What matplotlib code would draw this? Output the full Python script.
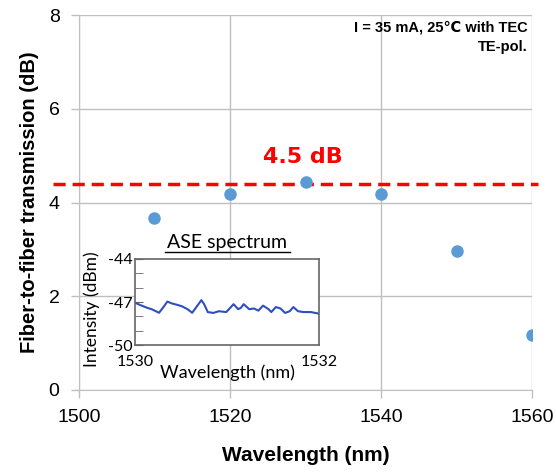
import matplotlib
matplotlib.use("Agg")
import matplotlib.pyplot as plt
from matplotlib.lines import Line2D

plt.rcParams["axes.unicode_minus"] = False

# main data: fiber-to-fiber transmission vs wavelength
wavelength = [1510, 1520, 1530, 1540, 1550, 1560]
transmission = [3.67, 4.18, 4.43, 4.18, 2.97, 1.17]
level_db = 4.4

# inset: ASE spectrum
ase_wl = [1530.00, 1530.07, 1530.13, 1530.18, 1530.26, 1530.32, 1530.35, 1530.40,
          1530.46, 1530.51, 1530.57, 1530.62, 1530.66, 1530.72, 1530.75, 1530.79,
          1530.85, 1530.91, 1530.99, 1531.02, 1531.07, 1531.12, 1531.15, 1531.18,
          1531.24, 1531.29, 1531.34, 1531.39, 1531.45, 1531.48, 1531.53, 1531.58,
          1531.63, 1531.68, 1531.72, 1531.77, 1531.83, 1531.91, 1531.99]
ase_dbm = [-47.05, -47.25, -47.4, -47.5, -47.75, -47.25, -46.97, -47.1,
           -47.2, -47.3, -47.5, -47.75, -47.4, -46.87, -47.15, -47.7,
           -47.76, -47.64, -47.7, -47.5, -47.15, -47.5, -47.4, -47.15,
           -47.5, -47.45, -47.6, -47.25, -47.5, -47.7, -47.35, -47.45,
           -47.76, -47.64, -47.35, -47.64, -47.7, -47.7, -47.8]

grid_c = "#bfbfbf"

fig = plt.figure(figsize=(5.56, 4.76), dpi=100)
ax = fig.add_axes([0.142, 0.181, 0.815, 0.787])

ax.plot(wavelength, transmission, "o", color="#5b9bd5", markersize=8, zorder=4)
ax.plot([1496.5, 1560.8], [level_db, level_db], "--", color="#ff0000", lw=2.5,
        dashes=(3.5, 2), clip_on=False, zorder=3)
ax.text(1529.7, 4.97, "4.5 dB", color="#ff0000", fontsize=16, fontweight="bold",
        ha="center", va="center", family="DejaVu Sans")
ax.text(0.99, 0.985, "I = 35 mA, 25\u2103 with TEC\nTE-pol.", transform=ax.transAxes,
        ha="right", va="top", fontsize=10.5, fontweight="bold", linespacing=1.5,
        family=["Liberation Sans", "DejaVu Sans"])

ax.set_xlim(1500, 1560)
ax.set_ylim(0, 8)
ax.set_xticks([1500, 1520, 1540, 1560])
ax.set_yticks([0, 2, 4, 6, 8])
ax.grid(True, color=grid_c, lw=1)
for s in ["top", "right"]:
    ax.spines[s].set_visible(False)
for s in ["left", "bottom"]:
    ax.spines[s].set_color(grid_c)
ax.tick_params(direction="out", color=grid_c, length=6, width=1,
               labelsize=14, pad=8)
for lab in ax.get_xticklabels() + ax.get_yticklabels():
    lab.set_family("Liberation Sans")
ax.set_xlabel("Wavelength (nm)", fontsize=15, fontweight="bold",
              family="Liberation Sans", labelpad=14)
ax.set_ylabel("Fiber-to-fiber transmission (dB)", fontsize=14.5, fontweight="bold",
              family="Liberation Sans", labelpad=7)

# inset
ins = fig.add_axes([0.243, 0.275, 0.331, 0.181])
ins.plot(ase_wl, ase_dbm, color="#2e4fbf", lw=1.5, solid_joinstyle="round")
ins.set_xlim(1530, 1532)
ins.set_ylim(-50, -44)
ins.set_xticks([1530, 1532])
ins.set_yticks([-44, -47, -50])
ins.set_yticks([-45, -46, -48, -49], minor=True)
for s in ins.spines.values():
    s.set_color("#666666")
    s.set_linewidth(1.2)
ins.tick_params(axis="y", which="both", direction="in", color="#666666",
                length=6, labelsize=11.5, pad=2)
ins.tick_params(axis="x", length=0, labelsize=11.5, pad=7)
for lab in ins.get_xticklabels() + ins.get_yticklabels():
    lab.set_family("Lato")
ins.set_xlabel("Wavelength (nm)", fontsize=13, family="Lato", labelpad=-3)
ins.set_ylabel("Intensity (dBm)", fontsize=12.5, family="Lato", labelpad=5)
ins.yaxis.set_label_coords(-0.19, 0.42)
ins.text(0.5, 1.09, "ASE spectrum", transform=ins.transAxes, ha="center",
         va="bottom", fontsize=14, family="Lato")
ins.add_line(Line2D([0.16, 0.84], [1.08, 1.08], transform=ins.transAxes,
                    color="black", lw=1, clip_on=False))
ins.set_zorder(5)

fig.savefig("out.png", dpi=100)
